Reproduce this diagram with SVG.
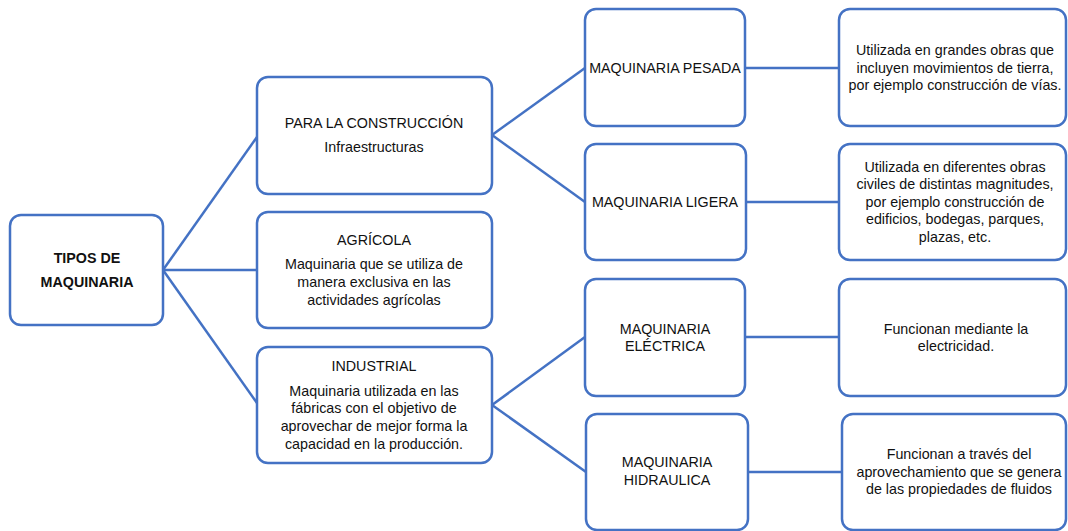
<svg xmlns="http://www.w3.org/2000/svg" width="1068" height="531" viewBox="0 0 1068 531">
<style>
.box{fill:#ffffff;stroke:#4472C4;stroke-width:2.5}
.con{stroke:#4472C4;stroke-width:2.5;fill:none}
text{font-family:"Liberation Sans",Arial,sans-serif;font-size:14.3px;fill:#111111;text-anchor:middle}
.b{font-weight:bold}
</style>
<rect width="1068" height="531" fill="#ffffff"/>
<g id="connectors">
<line class="con" x1="163" y1="270" x2="257" y2="137"/>
<line class="con" x1="163" y1="270" x2="257" y2="270"/>
<line class="con" x1="163" y1="270" x2="257" y2="403"/>
<line class="con" x1="492" y1="135" x2="585" y2="68"/>
<line class="con" x1="492" y1="135" x2="585" y2="202"/>
<line class="con" x1="492" y1="405" x2="585" y2="337"/>
<line class="con" x1="492" y1="405" x2="586" y2="472"/>
<line class="con" x1="745" y1="68" x2="839" y2="68"/>
<line class="con" x1="746" y1="202" x2="839" y2="202"/>
<line class="con" x1="745" y1="337" x2="839" y2="337"/>
<line class="con" x1="748" y1="472" x2="842" y2="472"/>
</g>
<g id="root">
<rect class="box" x="10" y="215" width="153" height="110" rx="11"/>
<text class="b" x="87" y="263">TIPOS DE</text>
<text class="b" x="87" y="287">MAQUINARIA</text>
</g>
<g id="construccion">
<rect class="box" x="257" y="77" width="235" height="117" rx="11"/>
<text x="374" y="128">PARA LA CONSTRUCCIÓN</text>
<text x="374" y="152">Infraestructuras</text>
</g>
<g id="agricola">
<rect class="box" x="257" y="212" width="235" height="116" rx="11"/>
<text x="374" y="245">AGRÍCOLA</text>
<text x="374" y="269">Maquinaria que se utiliza de</text>
<text x="374" y="287">manera exclusiva en las</text>
<text x="374" y="305">actividades agrícolas</text>
</g>
<g id="industrial">
<rect class="box" x="257" y="347" width="235" height="116" rx="11"/>
<text x="374" y="371">INDUSTRIAL</text>
<text x="374" y="396">Maquinaria utilizada en las</text>
<text x="374" y="413">fábricas con el objetivo de</text>
<text x="374" y="431">aprovechar de mejor forma la</text>
<text x="374" y="449">capacidad en la producción.</text>
</g>
<g id="pesada">
<rect class="box" x="585" y="9" width="160" height="117" rx="11"/>
<text x="665" y="73">MAQUINARIA PESADA</text>
</g>
<g id="ligera">
<rect class="box" x="585" y="144" width="161" height="116" rx="11"/>
<text x="665" y="207">MAQUINARIA LIGERA</text>
</g>
<g id="electrica">
<rect class="box" x="585" y="279" width="160" height="117" rx="11"/>
<text x="665" y="334">MAQUINARIA</text>
<text x="665" y="351">ELÉCTRICA</text>
</g>
<g id="hidraulica">
<rect class="box" x="586" y="414" width="162" height="116" rx="11"/>
<text x="667" y="467">MAQUINARIA</text>
<text x="667" y="485">HIDRAULICA</text>
</g>
<g id="pesada-desc">
<rect class="box" x="839" y="9" width="227" height="117" rx="11"/>
<text x="955" y="55">Utilizada en grandes obras que</text>
<text x="955" y="73">incluyen movimientos de tierra,</text>
<text x="955" y="90">por ejemplo construcción de vías.</text>
</g>
<g id="ligera-desc">
<rect class="box" x="839" y="144" width="227" height="116" rx="11"/>
<text x="955" y="172">Utilizada en diferentes obras</text>
<text x="955" y="189">civiles de distintas magnitudes,</text>
<text x="955" y="207">por ejemplo construcción de</text>
<text x="955" y="224">edificios, bodegas, parques,</text>
<text x="955" y="242">plazas, etc.</text>
</g>
<g id="electrica-desc">
<rect class="box" x="839" y="279" width="227" height="117" rx="11"/>
<text x="956" y="334">Funcionan mediante la</text>
<text x="956" y="351">electricidad.</text>
</g>
<g id="hidraulica-desc">
<rect class="box" x="842" y="414" width="224" height="116" rx="11"/>
<text x="959" y="459">Funcionan a través del</text>
<text x="959" y="477">aprovechamiento que se genera</text>
<text x="959" y="494">de las propiedades de fluidos</text>
</g>
</svg>
